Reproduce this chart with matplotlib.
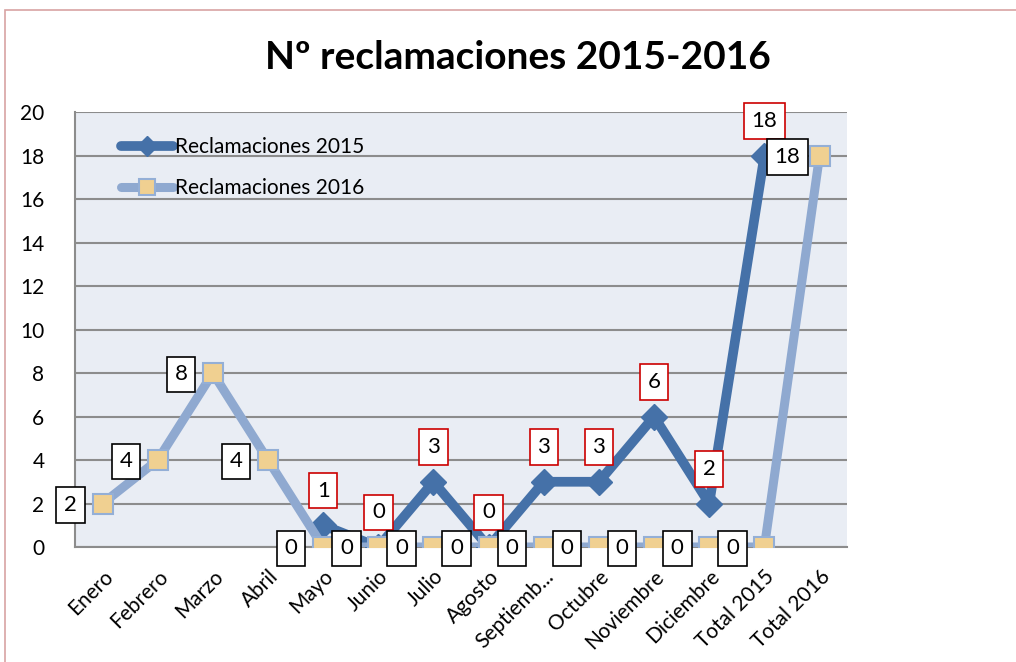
import matplotlib
matplotlib.use('Agg')
import matplotlib.pyplot as plt
from matplotlib.patches import Rectangle
import numpy as np

meses = ['Enero', 'Febrero', 'Marzo', 'Abril', 'Mayo', 'Junio', 'Julio',
         'Agosto', 'Septiemb...', 'Octubre', 'Noviembre', 'Diciembre',
         'Total 2015', 'Total 2016']
rec_2015 = [None, None, None, None, 1, 0, 3, 0, 3, 3, 6, 2, 18, None]
rec_2016 = [2, 4, 8, 4, 0, 0, 0, 0, 0, 0, 0, 0, 0, 18]
y_ticks = [0, 2, 4, 6, 8, 10, 12, 14, 16, 18, 20]

plt.rcParams['font.family'] = ['Lato', 'DejaVu Sans']

fig = plt.figure(figsize=(10.16, 6.62), dpi=100)
fig.patches.append(Rectangle((0.005, -0.01), 1.2, 0.995, transform=fig.transFigure,
                             fill=False, edgecolor='#d8a3a3', lw=1.2))
ax = fig.add_axes([0.0738, 0.1737, 0.76, 0.657])
ax.set_facecolor('#e9edf4')

x = np.arange(len(meses))
y15 = np.array([np.nan if v is None else v for v in rec_2015], dtype=float)
y16 = np.array(rec_2016, dtype=float)

ax.plot(x, y15, color='#4571a8', lw=7, marker='D', ms=13, mfc='#4571a8',
        mec='#4571a8', label='Reclamaciones 2015', zorder=3, solid_capstyle='round')
ax.plot(x, y16, color='#8fa9d0', lw=6.5, marker='s', ms=15, mfc='#f0d091',
        mec='#94afd6', mew=1.5, label='Reclamaciones 2016', zorder=4,
        solid_capstyle='round')

for i, v in enumerate(rec_2015):
    if v is None:
        continue
    ax.annotate(str(v), (i, v), xytext=(0, 25), textcoords='offset points',
                ha='center', va='center', fontsize=16, zorder=6,
                bbox=dict(boxstyle='square,pad=0.35', fc='white', ec='#cc0000', lw=1.2))
for i, v in enumerate(rec_2016):
    ax.annotate(str(v), (i, v), xytext=(-23, -1), textcoords='offset points',
                ha='center', va='center', fontsize=16, zorder=6,
                bbox=dict(boxstyle='square,pad=0.35', fc='white', ec='black', lw=1.2))

ax.set_xlim(-0.5, len(meses) - 0.5)
ax.set_ylim(0, 20)
ax.set_yticks(y_ticks)
ax.set_xticks(x)
ax.set_xticklabels(meses, rotation=45, ha='right', rotation_mode='anchor', fontsize=15)
ax.tick_params(axis='y', length=0, pad=22, labelsize=15)
ax.tick_params(axis='x', length=0, pad=14)
ax.yaxis.grid(True, color='#8c8c8c', lw=1.5)
ax.set_axisbelow(True)
for s in ['top', 'right']:
    ax.spines[s].set_visible(False)
for s in ['left', 'bottom']:
    ax.spines[s].set_color('#8c8c8c')
    ax.spines[s].set_linewidth(1.5)

leg = ax.legend(loc='upper left', bbox_to_anchor=(0.035, 0.985), frameon=False,
                fontsize=15, handlelength=2.5, handletextpad=0.1, labelspacing=1.0,
                markerscale=0.75)

fig.text(0.51, 0.913, 'Nº reclamaciones 2015-2016', ha='center', va='center',
         fontsize=28, fontweight='bold')

fig.savefig('out.png', dpi=100)
